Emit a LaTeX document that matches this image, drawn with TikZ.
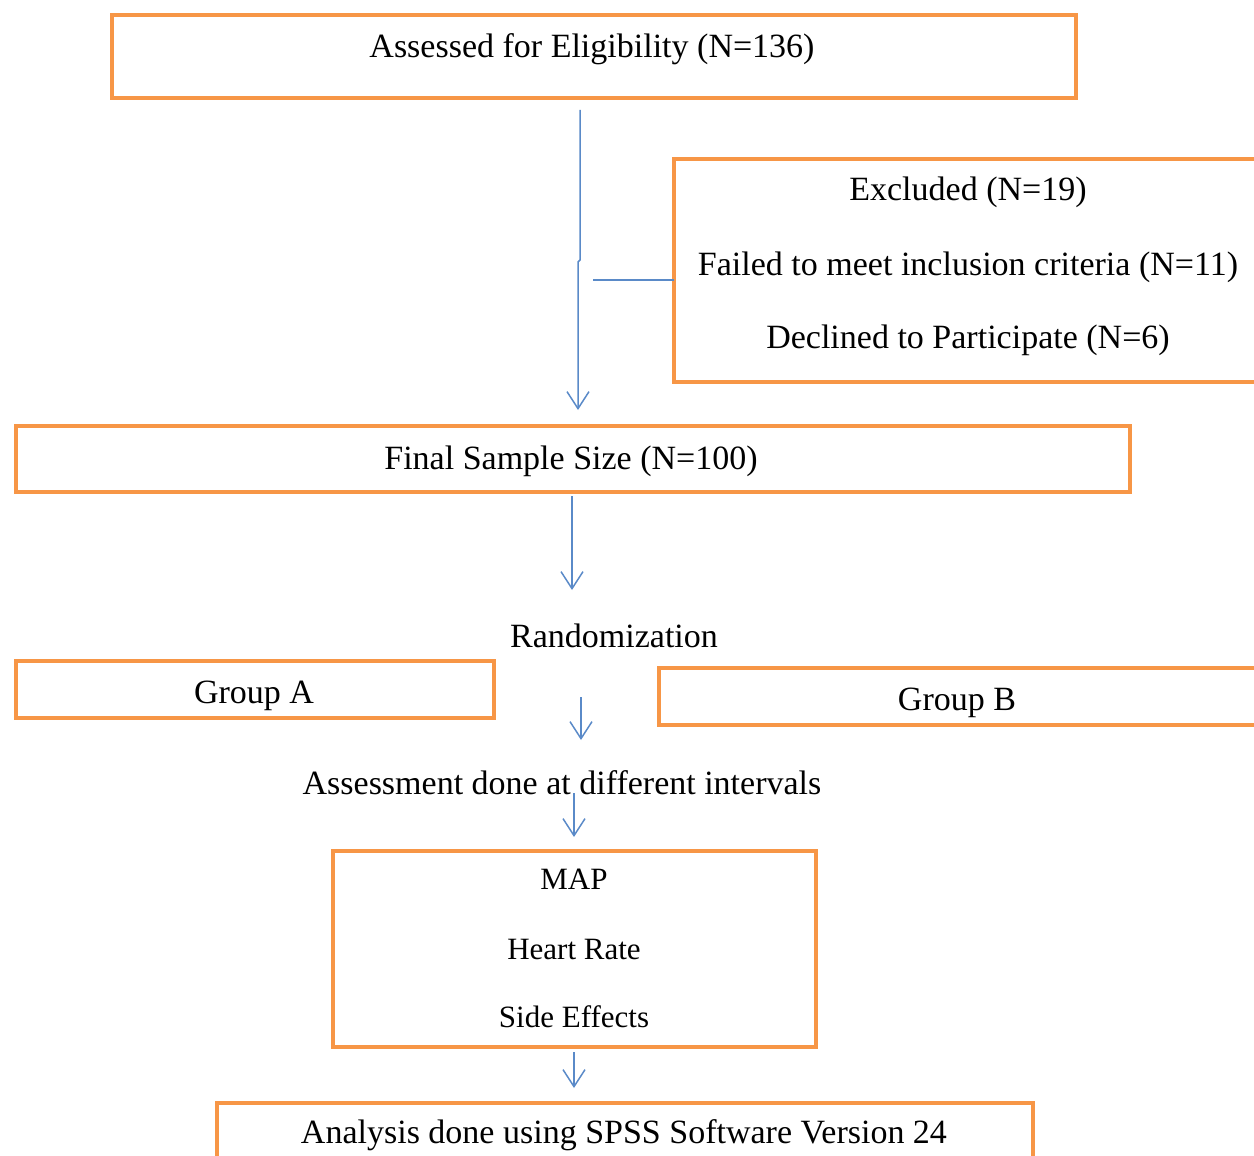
\documentclass[tikz,border=0pt]{standalone}
\usepackage{fontspec}
\setmainfont{Liberation Serif}
\usetikzlibrary{arrows.meta}
\definecolor{boxorange}{RGB}{247,150,70}
\definecolor{linkblue}{RGB}{90,138,200}
\begin{document}
\begin{tikzpicture}[x=1pt,y=-1pt,
  box/.style={draw=boxorange, line width=4pt, inner sep=0pt, outer sep=0pt, anchor=north west},
  txt/.style={font=\fontsize{34}{40}\selectfont, inner sep=0pt},
  smalltxt/.style={font=\fontsize{31}{37}\selectfont, inner sep=0pt},
  link/.style={draw=linkblue, line width=1.5pt},
  linkarrow/.style={link, -{Straight Barb[length=17pt,width=22pt,line width=1.5pt]}}]
\useasboundingbox (0,0) rectangle (1254,1156);
\clip (0,0) rectangle (1254,1156);
% boxes
\node[box, minimum width=964pt, minimum height=83pt] (assessed) at (112,15) {};
\node[box, minimum width=640pt, minimum height=223pt] (excluded) at (674,159) {};
\node[box, minimum width=1114pt, minimum height=66pt] (final) at (16,426) {};
\node[box, minimum width=478pt, minimum height=57pt] (groupa) at (16,661) {};
\node[box, minimum width=640pt, minimum height=57pt] (groupb) at (659,668) {};
\node[box, minimum width=483pt, minimum height=196pt] (measures) at (333,851) {};
\node[box, minimum width=816pt, minimum height=120pt] (analysis) at (217,1103) {};
% texts
\node[txt] (assessedtxt) at (592,49) {Assessed for Eligibility (N=136)};
\node[txt] (excl1) at (968,192) {Excluded (N=19)};
\node[txt] (excl2) at (968,267) {Failed to meet inclusion criteria (N=11)};
\node[txt] (excl3) at (968,340) {Declined to Participate (N=6)};
\node[txt] (finaltxt) at (571,461) {Final Sample Size (N=100)};
\node[txt] (random) at (614,636) {Randomization};
\node[txt] (groupatxt) at (254,696) {Group A};
\node[txt] (groupbtxt) at (957,703) {Group B};
\node[txt] (assessment) at (562,783) {Assessment done at different intervals};
\node[smalltxt] (map) at (574,879) {MAP};
\node[smalltxt] (hr) at (574,949) {Heart Rate};
\node[smalltxt] (se) at (574,1017) {Side Effects};
\node[txt] (analysistxt) at (624,1135) {Analysis done using SPSS Software Version 24};
% connectors
\coordinate (a1) at (580,110);
\coordinate (a2) at (580,260);
\coordinate (a3) at (578,262);
\coordinate (a4) at (578,410);
\draw[linkarrow] (a1) -- (a2) -- (a3) -- (a4);
\coordinate (b1) at (593,280);
\draw[link] (b1) -- (b1 -| excluded.west);
\coordinate (c1) at (572,496);
\coordinate (c2) at (572,590);
\draw[linkarrow] (c1) -- (c2);
\coordinate (d1) at (581,697);
\coordinate (d2) at (581,740);
\draw[linkarrow] (d1) -- (d2);
\coordinate (e1) at (574,793);
\coordinate (e2) at (574,837);
\draw[linkarrow] (e1) -- (e2);
\coordinate (f1) at (574,1052);
\coordinate (f2) at (574,1088);
\draw[linkarrow] (f1) -- (f2);
\end{tikzpicture}
\end{document}
